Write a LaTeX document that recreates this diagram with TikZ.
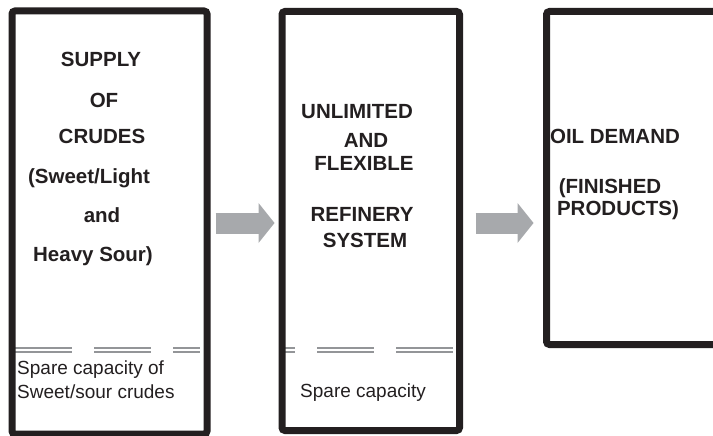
\documentclass[tikz,border=0pt]{standalone}
\usepackage{fontspec}
\setmainfont{Liberation Sans}
\usetikzlibrary{positioning}
\usetikzlibrary{arrows.meta}

\definecolor{boxline}{HTML}{231F20}
\definecolor{arrowgray}{HTML}{A7A9AC}
\definecolor{cutgray}{HTML}{939598}

\tikzset{
	box/.style={draw=boxline, line width=7pt, rounded corners=3pt, inner sep=0pt, anchor=north west},
	title/.style={font=\bfseries\fontsize{20.5}{24}\selectfont, text=boxline, anchor=base, inner sep=0pt},
	spare/.style={font=\fontsize{19}{23}\selectfont, text=boxline, anchor=base west, inner sep=0pt},
	cutline/.style={draw=cutgray, line width=2.2pt, double=white, double distance=2pt, dash pattern=on 57pt off 22pt},
	flow/.style={draw=arrowgray, line width=21pt, -{Triangle[width=40pt, length=16pt, line width=0pt]}},
}

\begin{document}
\begin{tikzpicture}[x=1pt, y=-1pt]
		\useasboundingbox (0,0) rectangle (713,436);
		\clip (0,0) rectangle (713,436);

		% Spare capacity cuts (drawn first, the frames cover their ends)
		\coordinate (cut1a) at (15,350);
		\coordinate (cut1b) at (200,350);
		\coordinate (cut2a) at (282,350);
		\coordinate (cut2b) at (453,350);
		\draw[cutline] (cut1a) -- (cut1b);
		\draw[cutline, dash phase=44pt] (cut2a) -- (cut2b);

		% The three frames
		\node[box, minimum width=195pt, minimum height=423pt] (supply) at (8.5,7.5) {};
		\node[box, minimum width=177.5pt, minimum height=419pt] (refinery) at (278.5,8) {};
		\node[box, minimum width=200pt, minimum height=333pt] (demand) at (543,8) {};

		% Supply of crudes
		\foreach \i/\x/\y/\t in {1/101/67/SUPPLY, 2/104/107/OF, 3/102/143/CRUDES,
				4/89/183/{(Sweet/Light}, 5/102/222/and, 6/93/261/{Heavy Sour)}} {
				\node[title] (sup\i) at (\x,\y) {\t};
			}
		\node[spare] (spare1) at (17,374) {Spare capacity of};
		\node[spare] (spare2) at (17,398) {Sweet/sour crudes};

		% Refinery system
		\foreach \i/\x/\y/\t in {1/357/119/UNLIMITED, 2/366/147/AND, 3/364/170/FLEXIBLE,
				4/362/221/REFINERY, 5/365/247/SYSTEM} {
				\node[title] (ref\i) at (\x,\y) {\t};
			}
		\node[spare] (spare3) at (300,397) {Spare capacity};

		% Oil demand
		\node[title] (dem1) at (615,143) {OIL DEMAND};
		\node[title] (dem2) at (610,193) {(FINISHED};
		\node[title] (dem3) at (618,215) {PRODUCTS)};

		% Flow between the frames
		\coordinate (mid) at (0,223);
		\draw[flow, shorten <=5pt, shorten >=4pt] (supply.east |- mid) -- (refinery.west |- mid);
		\draw[flow, shorten <=12.5pt, shorten >=9.5pt] (refinery.east |- mid) -- (demand.west |- mid);
	\end{tikzpicture}
\end{document}
